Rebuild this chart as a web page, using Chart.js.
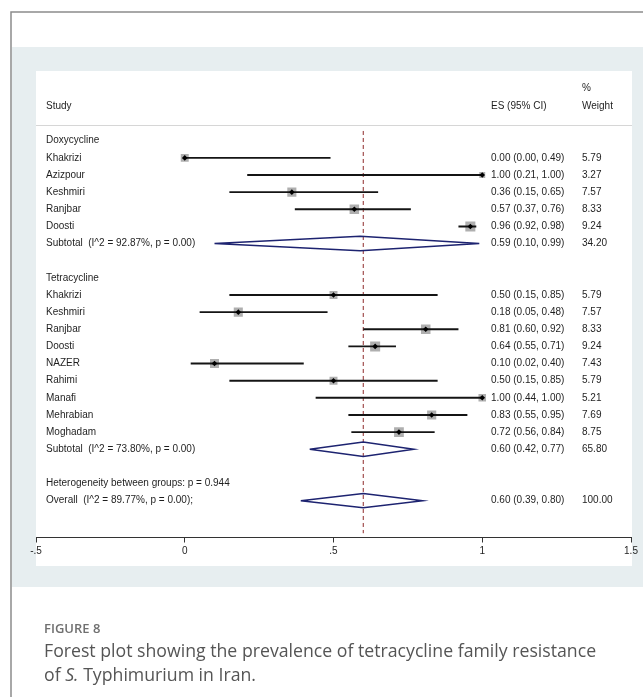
<!DOCTYPE html>
<html>
<head>
<meta charset="utf-8">
<script src="https://cdn.jsdelivr.net/npm/chart.js@4.4.1/dist/chart.umd.min.js"></script>
<style>
  html, body { margin: 0; padding: 0; background: #ffffff; }
  #wrap { position: relative; width: 643px; height: 697px; }
  canvas { display: block; }
</style>
</head>
<body>
<div id="wrap"><canvas id="forest" width="643" height="697"></canvas></div>
<script>
// ---- Doxycycline studies ----
const doxyStudy  = ['Khakrizi', 'Azizpour', 'Keshmiri', 'Ranjbar', 'Doosti'];
const doxyES     = [0.00, 1.00, 0.36, 0.57, 0.96];
const doxyLower  = [0.00, 0.21, 0.15, 0.37, 0.92];
const doxyUpper  = [0.49, 1.00, 0.65, 0.76, 0.98];
const doxyWeight = [5.79, 3.27, 7.57, 8.33, 9.24];
const doxyPooled = [0.59, 0.10, 0.99];          // ES, lower, upper
const doxyPooledWeight = 34.20;
const doxyI2 = 92.87;
const doxyP = 0.00;

// ---- Tetracycline studies ----
const tetraStudy  = ['Khakrizi', 'Keshmiri', 'Ranjbar', 'Doosti', 'NAZER', 'Rahimi', 'Manafi', 'Mehrabian', 'Moghadam'];
const tetraES     = [0.50, 0.18, 0.81, 0.64, 0.10, 0.50, 1.00, 0.83, 0.72];
const tetraLower  = [0.15, 0.05, 0.60, 0.55, 0.02, 0.15, 0.44, 0.55, 0.56];
const tetraUpper  = [0.85, 0.48, 0.92, 0.71, 0.40, 0.85, 1.00, 0.95, 0.84];
const tetraWeight = [5.79, 7.57, 8.33, 9.24, 7.43, 5.79, 5.21, 7.69, 8.75];
const tetraPooled = [0.60, 0.42, 0.77];
const tetraPooledWeight = 65.80;
const tetraI2 = 73.80;
const tetraP = 0.00;

// ---- Overall ----
const overallPooled = [0.60, 0.39, 0.80];
const overallWeight = 100.00;
const overallI2 = 89.77;
const overallP = 0.00;
const betweenGroupP = 0.944;

// ---- Axis ----
const xTickValues = [-0.5, 0, 0.5, 1, 1.5];
const xTickLabels = ['-.5', '0', '.5', '1', '1.5'];

// ---- Build the table rows (one row index per line of the plot) ----
const rows = [];
let rowIdx = 0;
function addGroup(name, studies, es, lo, hi, w, pooled, pw, i2, p) {
  rows.push({ kind: 'group', label: name, y: rowIdx++ });
  studies.forEach((s, i) => rows.push({ kind: 'study', label: s, es: es[i], lo: lo[i], hi: hi[i], w: w[i], y: rowIdx++ }));
  rows.push({ kind: 'pooled', label: 'Subtotal  (I^2 = ' + i2.toFixed(2) + '%, p = ' + p.toFixed(2) + ')',
              es: pooled[0], lo: pooled[1], hi: pooled[2], w: pw, y: rowIdx++ });
  rowIdx++; // blank line between groups
}
addGroup('Doxycycline', doxyStudy, doxyES, doxyLower, doxyUpper, doxyWeight, doxyPooled, doxyPooledWeight, doxyI2, doxyP);
addGroup('Tetracycline', tetraStudy, tetraES, tetraLower, tetraUpper, tetraWeight, tetraPooled, tetraPooledWeight, tetraI2, tetraP);
rows.push({ kind: 'note', label: 'Heterogeneity between groups: p = ' + betweenGroupP.toFixed(3), y: rowIdx++ });
rows.push({ kind: 'pooled', label: 'Overall  (I^2 = ' + overallI2.toFixed(2) + '%, p = ' + overallP.toFixed(2) + ');',
            es: overallPooled[0], lo: overallPooled[1], hi: overallPooled[2], w: overallWeight, y: rowIdx++ });

const studyRows = rows.filter(r => r.kind === 'study');
const pooledRows = rows.filter(r => r.kind === 'pooled');

const DIAMOND_HALF = 0.42;   // half height of pooled diamonds, in rows
const BOX_SCALE = 3.3;       // box side = BOX_SCALE * sqrt(weight) px

// ---- Datasets ----
const datasets = [];
// point estimates (black diamonds)
datasets.push({
  type: 'scatter', label: 'es',
  data: studyRows.map(r => ({ x: r.es, y: r.y })),
  pointStyle: 'rectRot', pointRadius: 2.8, pointHoverRadius: 2.8,
  backgroundColor: '#000', borderColor: '#000', borderWidth: 0
});
// confidence intervals
studyRows.forEach(r => datasets.push({
  type: 'line', label: 'ci',
  data: [{ x: r.lo, y: r.y }, { x: r.hi, y: r.y }],
  borderColor: '#141414', borderWidth: 1.9, pointRadius: 0, fill: false, tension: 0
}));
// weight boxes
datasets.push({
  type: 'scatter', label: 'weight',
  data: studyRows.map(r => ({ x: r.es, y: r.y, w: r.w })),
  pointStyle: 'rect',
  pointRadius: ctx => (BOX_SCALE * Math.sqrt(ctx.raw ? ctx.raw.w : 1)) / Math.SQRT2,
  pointHoverRadius: ctx => (BOX_SCALE * Math.sqrt(ctx.raw ? ctx.raw.w : 1)) / Math.SQRT2,
  backgroundColor: '#afafaf', borderWidth: 0
});
// pooled diamonds
pooledRows.forEach(r => datasets.push({
  type: 'line', label: 'pooled',
  data: [
    { x: r.lo, y: r.y }, { x: r.es, y: r.y - DIAMOND_HALF },
    { x: r.hi, y: r.y }, { x: r.es, y: r.y + DIAMOND_HALF }, { x: r.lo, y: r.y }
  ],
  borderColor: '#1d2370', borderWidth: 1.5, pointRadius: 0, fill: false, tension: 0
}));
// overall effect reference line
datasets.push({
  type: 'line', label: 'overall',
  data: [{ x: overallPooled[0], y: -0.57 }, { x: overallPooled[0], y: 22.9 }],
  borderColor: '#8e2a2a', borderWidth: 1, borderDash: [4, 3], pointRadius: 0, fill: false
});

const FONT = '"Liberation Sans", Arial, sans-serif';

// ---- Figure frame, panel and caption ----
const framePlugin = {
  id: 'frame',
  beforeDraw(chart) {
    const c = chart.ctx;
    c.save();
    c.fillStyle = '#ffffff';
    c.fillRect(0, 0, 643, 697);
    // light panel behind the plot
    c.fillStyle = '#e7eef0';
    c.fillRect(12, 47, 631, 540);
    // white plot region
    c.fillStyle = '#ffffff';
    c.fillRect(36, 71, 596, 495);
    // container border (top and left)
    c.strokeStyle = '#8c8c8c';
    c.lineWidth = 1.5;
    c.beginPath();
    c.moveTo(11, 697); c.lineTo(11, 12); c.lineTo(643, 12);
    c.stroke();
    // header separator
    c.strokeStyle = '#d6d6d6';
    c.lineWidth = 1;
    c.beginPath();
    c.moveTo(36, 125.5); c.lineTo(632, 125.5);
    c.stroke();
    // caption
    c.textBaseline = 'alphabetic';
    c.textAlign = 'left';
    c.fillStyle = '#707070';
    c.font = '600 13px "Open Sans", sans-serif';
    c.fillText('FIGURE 8', 44, 633);
    c.fillStyle = '#555555';
    const capFont = '17.7px "Open Sans", sans-serif';
    c.font = capFont;
    c.fillText('Forest plot showing the prevalence of tetracycline family resistance', 44, 657);
    let x = 44;
    c.fillText('of ', x, 681); x += c.measureText('of ').width;
    c.font = 'italic ' + capFont;
    c.fillText('S.', x, 681); x += c.measureText('S.').width;
    c.font = capFont;
    c.fillText(' Typhimurium in Iran.', x, 681);
    c.restore();
  }
};

// ---- Study labels and ES / weight columns ----
const tablePlugin = {
  id: 'table',
  afterDatasetsDraw(chart) {
    const c = chart.ctx;
    const ys = chart.scales.y;
    const colLabel = 46, colES = 491, colW = 582;
    c.save();
    c.fillStyle = '#1e1e1e';
    c.font = '10px ' + FONT;
    c.textBaseline = 'middle';
    c.textAlign = 'left';
    // header
    c.fillText('Study', colLabel, ys.getPixelForValue(-2.02));
    c.fillText('ES (95% CI)', colES, ys.getPixelForValue(-2.02));
    c.fillText('%', colW, ys.getPixelForValue(-3.07));
    c.fillText('Weight', colW, ys.getPixelForValue(-2.02));
    rows.forEach(r => {
      const py = ys.getPixelForValue(r.y);
      c.fillText(r.label, colLabel, py);
      if (r.kind === 'study' || r.kind === 'pooled') {
        c.fillText(r.es.toFixed(2) + ' (' + r.lo.toFixed(2) + ', ' + r.hi.toFixed(2) + ')', colES, py);
        c.fillText(r.w.toFixed(2), colW, py);
      }
    });
    c.restore();
  }
};

new Chart(document.getElementById('forest'), {
  data: { datasets },
  options: {
    responsive: false,
    animation: false,
    devicePixelRatio: 1,
    events: [],
    layout: { padding: { left: 36, right: 12, top: 123.6, bottom: 129.5 } },
    plugins: { legend: { display: false }, tooltip: { enabled: false } },
    scales: {
      x: {
        type: 'linear',
        position: 'bottom',
        min: -0.5, max: 1.5,
        afterBuildTicks: s => { s.ticks = xTickValues.map(v => ({ value: v })); },
        afterFit: s => { s.height = 30; s.paddingLeft = 0; s.paddingRight = 0; },
        ticks: {
          autoSkip: false, maxRotation: 0, padding: 3,
          color: '#1e1e1e',
          font: { family: FONT, size: 10 },
          callback: v => xTickLabels[xTickValues.indexOf(v)]
        },
        grid: { drawOnChartArea: false, drawTicks: true, tickLength: 5, color: '#333333', lineWidth: 1 },
        border: { display: true, color: '#333333', width: 1 }
      },
      y: {
        type: 'linear', display: false, reverse: true,
        min: -1, max: 23.15
      }
    }
  },
  plugins: [framePlugin, tablePlugin]
});
</script>
</body>
</html>
